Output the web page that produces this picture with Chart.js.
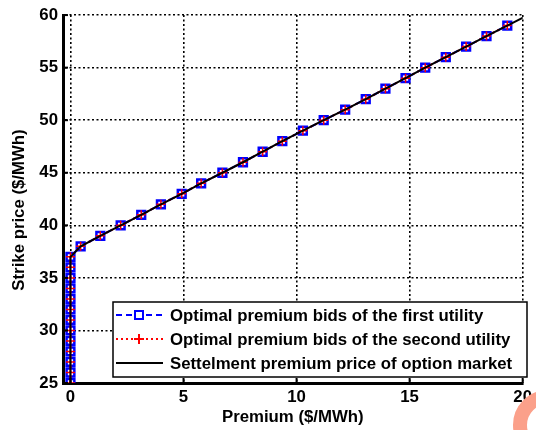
<!DOCTYPE html>
<html>
<head>
<meta charset="utf-8">
<script src="https://cdn.jsdelivr.net/npm/chart.js@4.4.1/dist/chart.umd.min.js"></script>
<style>
  html, body { margin: 0; padding: 0; background: #fff; }
  #wrap { width: 536px; height: 430px; }
</style>
</head>
<body>
<div id="wrap"><canvas id="bidChart" width="536" height="430"></canvas></div>
<script>
// strike prices ($/MWh)
const strikePrices = [25, 26, 27, 28, 29, 30, 31, 32, 33, 34, 35, 36, 37,
  38, 39, 40, 41, 42, 43, 44, 45, 46, 47, 48, 49, 50, 51, 52, 53, 54, 55, 56, 57, 58, 59];
// premium bids ($/MWh)
const firstUtilityBids = [0, 0, 0, 0, 0, 0, 0, 0, 0, 0, 0, 0, 0,
  0.45, 1.32, 2.22, 3.13, 4.0, 4.92, 5.78, 6.72, 7.63, 8.5, 9.37, 10.28, 11.2,
  12.15, 13.06, 13.93, 14.82, 15.69, 16.6, 17.5, 18.4, 19.32];
const secondUtilityBids = [0, 0, 0, 0, 0, 0, 0, 0, 0, 0, 0, 0, 0,
  0.45, 1.32, 2.22, 3.13, 4.0, 4.92, 5.78, 6.72, 7.63, 8.5, 9.37, 10.28, 11.2,
  12.15, 13.06, 13.93, 14.82, 15.69, 16.6, 17.5, 18.4, 19.32];
const settlementStrikes = strikePrices.concat([60]);
const settlementPremium = firstUtilityBids.concat([20.24]);

const xTicks = [0, 5, 10, 15, 20];
const yTicks = [25, 30, 35, 40, 45, 50, 55, 60];
const legendLabels = [
  "Optimal premium bids of the first utility",
  "Optimal premium bids of the second utility",
  "Settelment premium price of option market"
];

const FONT = "Liberation Sans, Arial, sans-serif";
const FONT_SIZE = 16.8;

function toPoints(xs, ys) {
  return xs.map((x, i) => ({ x: x, y: ys[i] }));
}

// axis titles, inward ticks and the boxed legend
const decorations = {
  id: "decorations",
  afterDatasetsDraw(chart) {
    const ctx = chart.ctx;
    const area = chart.chartArea;
    const xs = chart.scales.x;
    const ys = chart.scales.y;
    ctx.save();

    ctx.strokeStyle = "#000";
    ctx.lineWidth = 2;
    xTicks.forEach(v => {
      const px = xs.getPixelForValue(v);
      ctx.beginPath();
      ctx.moveTo(px, area.bottom);
      ctx.lineTo(px, area.bottom - 5);
      ctx.stroke();
    });
    yTicks.forEach(v => {
      const py = ys.getPixelForValue(v);
      ctx.beginPath();
      ctx.moveTo(area.left, py);
      ctx.lineTo(area.left + 5, py);
      ctx.stroke();
    });

    // legend
    const box = { left: 113, top: 302, right: 527, bottom: 377 };
    ctx.fillStyle = "#fff";
    ctx.fillRect(box.left, box.top, box.right - box.left, box.bottom - box.top);
    ctx.lineWidth = 1.5;
    ctx.strokeStyle = "#000";
    ctx.strokeRect(box.left, box.top, box.right - box.left, box.bottom - box.top);

    const rows = [315, 339, 363];
    const x0 = 116, x1 = 163, xm = 139;
    ctx.lineWidth = 2;

    ctx.strokeStyle = "#0000ff";
    ctx.setLineDash([6, 4]);
    ctx.beginPath(); ctx.moveTo(x0, rows[0]); ctx.lineTo(x1, rows[0]); ctx.stroke();
    ctx.setLineDash([]);
    ctx.fillStyle = "#fff";
    ctx.fillRect(xm - 4, rows[0] - 4, 8, 8);
    ctx.strokeRect(xm - 4, rows[0] - 4, 8, 8);

    ctx.strokeStyle = "#ff0000";
    ctx.setLineDash([2, 3]);
    ctx.beginPath(); ctx.moveTo(x0, rows[1]); ctx.lineTo(x1, rows[1]); ctx.stroke();
    ctx.setLineDash([]);
    ctx.beginPath();
    ctx.moveTo(xm - 5, rows[1]); ctx.lineTo(xm + 5, rows[1]);
    ctx.moveTo(xm, rows[1] - 5); ctx.lineTo(xm, rows[1] + 5);
    ctx.stroke();

    ctx.strokeStyle = "#000";
    ctx.beginPath(); ctx.moveTo(x0, rows[2]); ctx.lineTo(x1, rows[2]); ctx.stroke();

    ctx.fillStyle = "#000";
    ctx.font = "bold " + FONT_SIZE + "px " + FONT;
    ctx.textAlign = "left";
    ctx.textBaseline = "middle";
    legendLabels.forEach((t, i) => ctx.fillText(t, 170, rows[i] + 1));

    // axis titles
    ctx.textAlign = "center";
    ctx.fillText("Premium ($/MWh)", (area.left + area.right) / 2, 417);
    ctx.translate(19, 210);
    ctx.rotate(-Math.PI / 2);
    ctx.fillText("Strike price ($/MWh)", 0, 0);
    ctx.restore();
  },
  afterDraw(chart) {
    const ctx = chart.ctx;
    ctx.save();
    ctx.strokeStyle = "#fba08a";
    ctx.lineWidth = 14;
    ctx.beginPath();
    ctx.arc(548, 425, 28, 0, Math.PI * 2);
    ctx.stroke();
    ctx.restore();
  }
};

const tickFont = { family: FONT, size: FONT_SIZE, weight: "bold" };

new Chart(document.getElementById("bidChart").getContext("2d"), {
  type: "scatter",
  data: {
    datasets: [
      {
        label: legendLabels[2],
        data: toPoints(settlementPremium, settlementStrikes),
        showLine: true,
        borderColor: "#000",
        borderWidth: 2,
        pointRadius: 0,
        order: 0
      },
      {
        label: legendLabels[1],
        data: toPoints(secondUtilityBids, strikePrices),
        showLine: true,
        borderColor: "#ff0000",
        borderWidth: 2,
        borderDash: [2, 3],
        pointStyle: "cross",
        pointRadius: 4.5,
        pointBorderWidth: 1.5,
        pointBorderColor: "#ff0000",
        order: 1
      },
      {
        label: legendLabels[0],
        data: toPoints(firstUtilityBids, strikePrices),
        showLine: true,
        borderColor: "#0000ff",
        borderWidth: 2,
        borderDash: [6, 4],
        pointStyle: "rect",
        pointRadius: 5.5,
        pointBorderWidth: 2.5,
        pointBorderColor: "#0000ff",
        pointBackgroundColor: "#fff",
        order: 2
      }
    ]
  },
  options: {
    responsive: false,
    animation: false,
    layout: { autoPadding: false, padding: { top: 13, right: 6, left: 0, bottom: 0 } },
    plugins: {
      legend: { display: false },
      tooltip: { enabled: false }
    },
    scales: {
      x: {
        type: "linear",
        min: -0.33,
        max: 20,
        afterBuildTicks: scale => { scale.ticks = xTicks.map(v => ({ value: v })); },
        afterFit: scale => { scale.height = 47; },
        grid: { color: "#000", lineWidth: 1.6, drawTicks: false },
        border: { display: true, color: "#000", width: 3, dash: [2, 2.5] },
        ticks: {
          padding: 4,
          color: "#000",
          autoSkip: false,
          maxRotation: 0,
          font: tickFont
        }
      },
      y: {
        type: "linear",
        min: 25,
        max: 60,
        afterBuildTicks: scale => { scale.ticks = yTicks.map(v => ({ value: v })); },
        afterFit: scale => { scale.width = 63; },
        grid: { color: "#000", lineWidth: 1.6, drawTicks: false },
        border: { display: true, color: "#000", width: 3, dash: [2, 2.5] },
        ticks: {
          padding: 5,
          color: "#000",
          font: tickFont
        }
      }
    }
  },
  plugins: [decorations]
});
</script>
</body>
</html>
